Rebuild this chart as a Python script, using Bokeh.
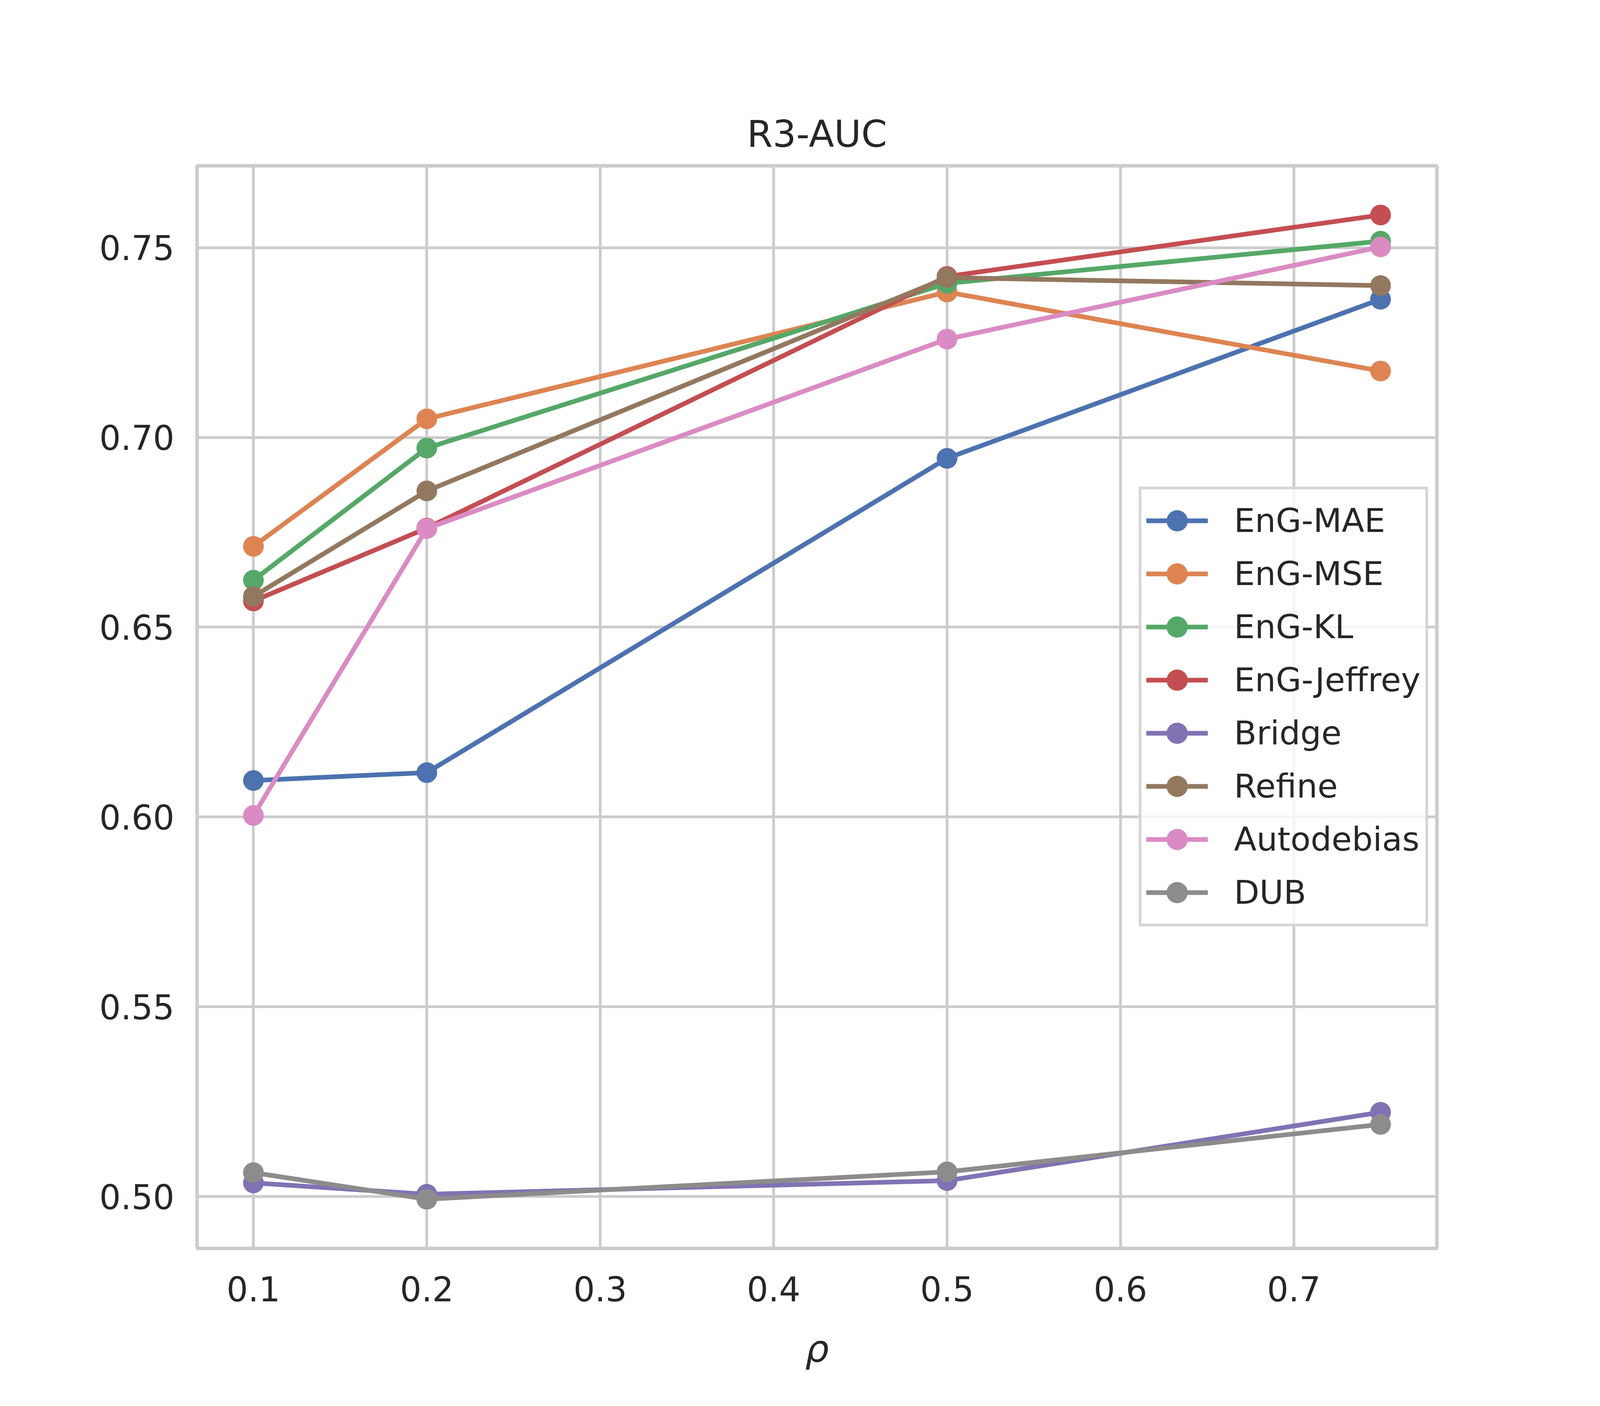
from bokeh.plotting import figure
from bokeh.models import FixedTicker, PrintfTickFormatter, Legend, LegendItem, Range1d
from bokeh.embed import file_html
from bokeh.resources import INLINE

# ---- data ----
rho = [0.1, 0.2, 0.5, 0.75]
series_names = ["EnG-MAE", "EnG-MSE", "EnG-KL", "EnG-Jeffrey", "Bridge", "Refine", "Autodebias", "DUB"]
eng_mae = [0.6096, 0.6117, 0.6945, 0.7364]
eng_mse = [0.6713, 0.7049, 0.7383, 0.7175]
eng_kl = [0.6624, 0.6972, 0.7406, 0.7517]
eng_jeffrey = [0.6569, 0.6761, 0.7424, 0.7586]
bridge = [0.5036, 0.5006, 0.5042, 0.5222]
refine = [0.6581, 0.6859, 0.7421, 0.7400]
autodebias = [0.6004, 0.6760, 0.7259, 0.7502]
dub = [0.5063, 0.4993, 0.5065, 0.5190]
series_values = [eng_mae, eng_mse, eng_kl, eng_jeffrey, bridge, refine, autodebias, dub]
colors = ["#4C72B0", "#DD8452", "#55A868", "#C44E52", "#8172B3", "#937860", "#DA8BC3", "#8C8C8C"]
x_ticks = [0.1, 0.2, 0.3, 0.4, 0.5, 0.6, 0.7]
y_ticks = [0.50, 0.55, 0.60, 0.65, 0.70, 0.75]
title_text = "R3-AUC"
x_label = "ρ"

# ---- ranges with matplotlib-like 5% margins ----
all_y = [v for s in series_values for v in s]
ylo, yhi = min(all_y), max(all_y)
ypad = (yhi - ylo) * 0.05
xlo, xhi = min(rho), max(rho)
xpad = (xhi - xlo) * 0.05

# the visible window is narrower than 4:3, so the layout is scaled per axis
SX = 4096 / 4800
SY = 1.0


def hx(v):
    return int(round(v * SX))


def vy(v):
    return int(round(v * SY))


def fs(v, f=0.90):
    return f"{v * f:.1f}px"


TXT = "#262626"
FONT = "DejaVu Sans"

left = hx(600) - 8
fw = hx(3720)
p = figure(
    frame_width=fw, frame_height=vy(2772),
    min_border_left=left, min_border_right=4078 - left - fw,
    min_border_top=vy(432) - 8, min_border_bottom=384,
    x_range=Range1d(xlo - xpad, xhi + xpad),
    y_range=Range1d(ylo - ypad, yhi + ypad),
    output_backend="svg", toolbar_location=None,
    title=title_text,
)
p.background_fill_color = "white"
p.border_fill_color = "white"
p.outline_line_color = "#cccccc"
p.outline_line_width = 9

p.title.align = "center"
p.title.text_font = FONT
p.title.text_font_size = fs(103, 0.92)
p.title.text_font_style = "normal"
p.title.text_color = TXT
p.title.standoff = 54

for ax in (p.xaxis[0], p.yaxis[0]):
    ax.axis_line_color = None
    ax.major_tick_line_color = None
    ax.minor_tick_line_color = None
    ax.major_tick_out = 0
    ax.major_tick_in = 0
    ax.minor_tick_out = 0
    ax.minor_tick_in = 0
    ax.major_label_text_font = FONT
    ax.major_label_text_font_size = fs(96)
    ax.major_label_text_color = TXT

p.xaxis.ticker = FixedTicker(ticks=x_ticks)
p.yaxis.ticker = FixedTicker(ticks=y_ticks)
p.xaxis.formatter = PrintfTickFormatter(format="%.1f")
p.yaxis.formatter = PrintfTickFormatter(format="%.2f")
p.xaxis.major_label_standoff = 71
p.yaxis.major_label_standoff = 58
p.xaxis.axis_label = x_label
p.xaxis.axis_label_text_font = FONT
p.xaxis.axis_label_text_font_size = fs(104, 0.92)
p.xaxis.axis_label_text_font_style = "italic"
p.xaxis.axis_label_text_color = TXT
p.xaxis.axis_label_standoff = 63

p.xgrid.grid_line_color = "#cccccc"
p.ygrid.grid_line_color = "#cccccc"
p.xgrid.grid_line_width = 7
p.ygrid.grid_line_width = 7

items = []
for name, vals, c in zip(series_names, series_values, colors):
    r1 = p.line(rho, vals, line_color=c, line_width=12, line_join="round")
    r2 = p.scatter(rho, vals, marker="circle", size=53, fill_color=c, line_color=c, line_width=0)
    items.append(LegendItem(label=name, renderers=[r1, r2]))

legend = Legend(
    items=items,
    location=(hx(3425.5 - 600), 824),
    glyph_width=158, glyph_height=136, label_height=136,
    spacing=0, padding=12, margin=0,
    label_standoff=hx(79),
    label_text_font=FONT, label_text_font_size=fs(96, 0.88), label_text_color=TXT,
    border_line_color="#cccccc", border_line_width=7, border_line_alpha=0.8,
    background_fill_color="white", background_fill_alpha=0.8,
)
p.add_layout(legend, "center")

open("out.html", "w").write(file_html(p, INLINE))
